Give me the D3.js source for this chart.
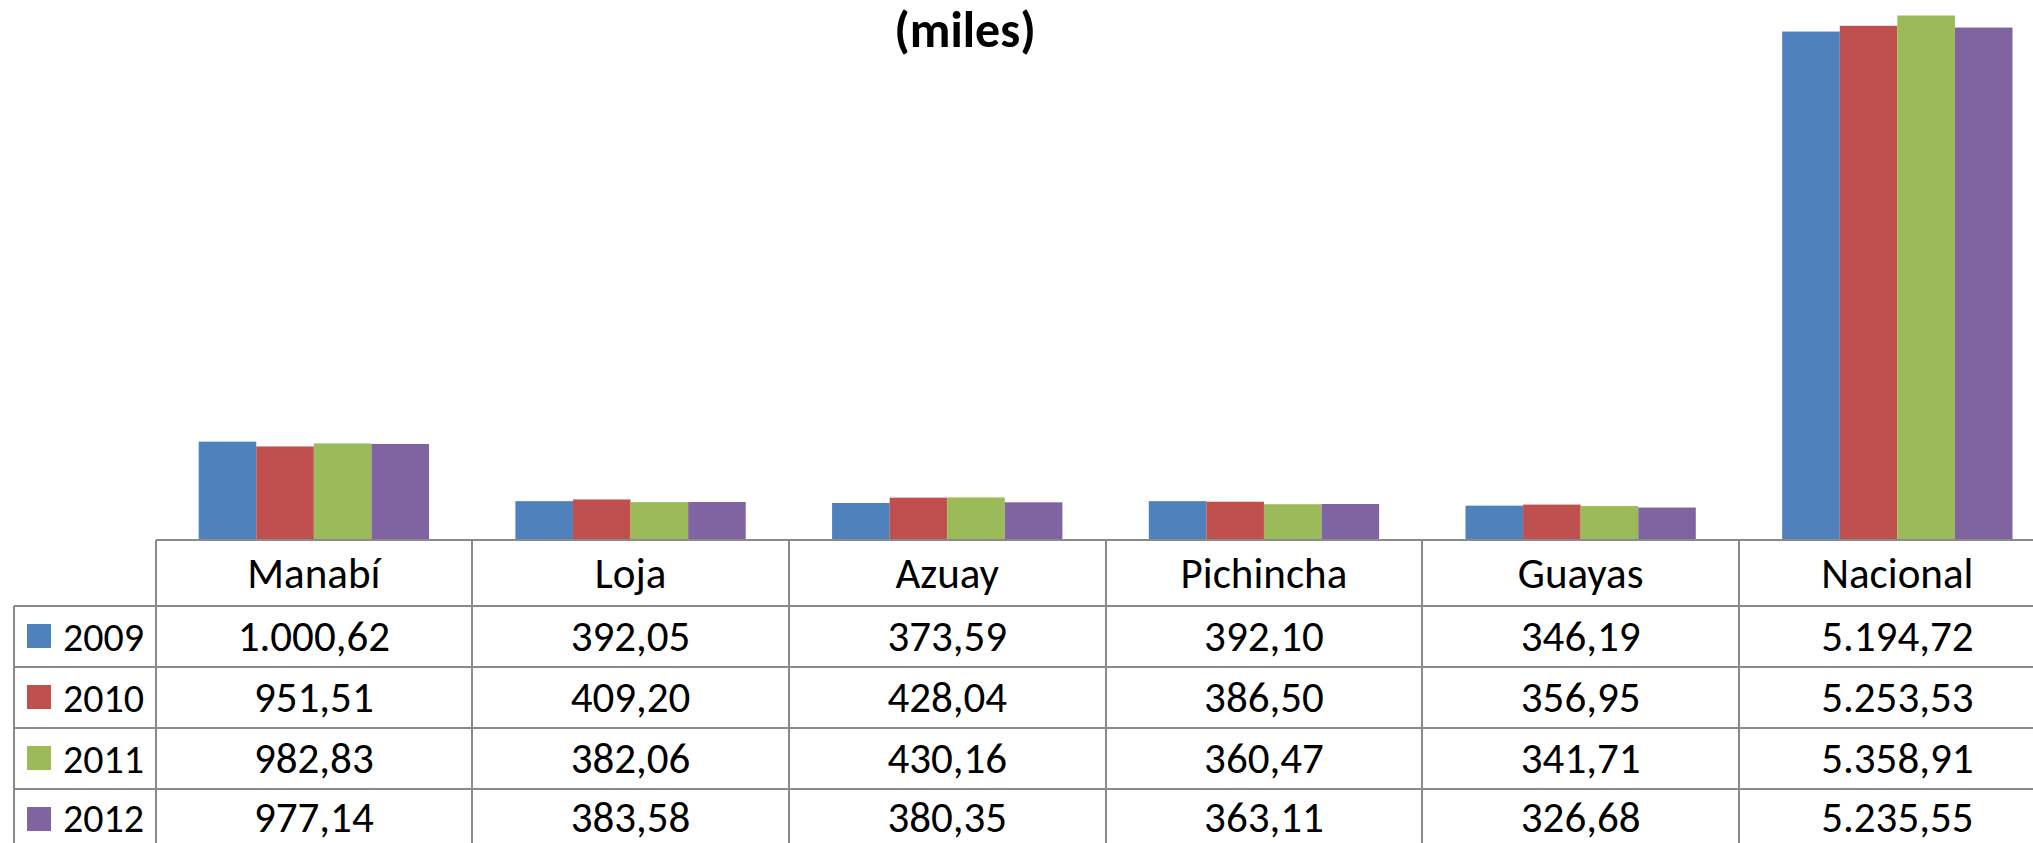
<!DOCTYPE html>
<html>
<head>
<meta charset="utf-8">
<title>miles</title>
<script src="https://cdn.jsdelivr.net/npm/d3@7/dist/d3.min.js"></script>
<style>
  html, body { margin: 0; padding: 0; background: #fff; }
  svg { display: block; }
  .cell-text { font-family: Carlito, Calibri, Lato, sans-serif; font-size: 43px; fill: #000; text-anchor: middle; }
  .legend-text { font-family: Carlito, Calibri, Lato, sans-serif; font-size: 40px; fill: #000; }
  .title { font-family: Carlito, Calibri, Lato, sans-serif; font-size: 50px; font-weight: bold; text-anchor: middle; }
  .grid { stroke: #8a8a8a; stroke-width: 2px; shape-rendering: crispEdges; }
</style>
</head>
<body>
<svg width="2033" height="843"></svg>
<script>
  const categories = ["Manabí", "Loja", "Azuay", "Pichincha", "Guayas", "Nacional"];
  const years = ["2009", "2010", "2011", "2012"];
  const v2009 = [1000.62, 392.05, 373.59, 392.10, 346.19, 5194.72];
  const v2010 = [951.51, 409.20, 428.04, 386.50, 356.95, 5253.53];
  const v2011 = [982.83, 382.06, 430.16, 360.47, 341.71, 5358.91];
  const v2012 = [977.14, 383.58, 380.35, 363.11, 326.68, 5235.55];
  const colors = ["#4F81BD", "#C0504D", "#9BBB59", "#8064A2"];

  const seriesValues = [v2009, v2010, v2011, v2012];

  let svg = d3.select("svg");

  // layout
  let left = 155.5, colW = 316.7;
  let base = 539.5, headerH = 66, rowH = 61;
  let legendLeft = 14;

  let x = d3.scaleBand()
            .domain(categories)
            .range([left, left + colW * categories.length]);
  let xi = d3.scaleBand()
             .domain(years)
             .range([0, x.bandwidth()])
             .paddingOuter(0.75);
  let y = d3.scaleLinear()
            .domain([0, 6000])
            .range([base, base - 6000 * 0.09778]);
  let color = d3.scaleOrdinal().domain(years).range(colors);

  let es = d3.formatLocale({decimal: ",", thousands: ".", grouping: [3], currency: ["", ""]});
  let fmt = es.format(",.2f");

  // bars
  let rows = years.map((yr, i) => ({year: yr, values: seriesValues[i]}));
  let flat = [];
  rows.forEach(r => r.values.forEach((v, j) => flat.push({year: r.year, cat: categories[j], value: v})));

  svg.append("g").selectAll("rect")
     .data(flat)
     .join("rect")
     .attr("x", d => x(d.cat) + xi(d.year))
     .attr("width", xi.bandwidth())
     .attr("y", d => y(d.value))
     .attr("height", d => y(0) - y(d.value))
     .attr("fill", d => color(d.year));

  // title (second line visible)
  svg.append("text")
     .attr("class", "title")
     .attr("x", 965)
     .attr("y", 47)
     .text("(miles)");

  // data table
  let right = left + colW * categories.length;
  let bottom = base + headerH + rowH * years.length;
  let g = svg.append("g");

  // horizontal lines
  g.append("line").attr("class", "grid")
   .attr("x1", left).attr("x2", right).attr("y1", base).attr("y2", base);
  d3.range(years.length + 1).forEach(i => {
    let yy = base + headerH + i * rowH;
    g.append("line").attr("class", "grid")
     .attr("x1", legendLeft).attr("x2", right).attr("y1", yy).attr("y2", yy);
  });
  // vertical lines
  g.append("line").attr("class", "grid")
   .attr("x1", legendLeft).attr("x2", legendLeft).attr("y1", base + headerH).attr("y2", bottom);
  d3.range(categories.length + 1).forEach(i => {
    let xx = left + i * colW;
    g.append("line").attr("class", "grid")
     .attr("x1", xx).attr("x2", xx).attr("y1", base).attr("y2", bottom);
  });

  // header labels
  g.selectAll("text.head")
   .data(categories)
   .join("text")
   .attr("class", "cell-text head")
   .attr("x", d => x(d) + x.bandwidth() / 2)
   .attr("y", base + headerH / 2 + 15)
   .text(d => d);

  // rows
  rows.forEach((r, i) => {
    let cy = base + headerH + i * rowH + rowH / 2;
    let ty = i === years.length - 1 ? cy + 13 : cy + 15;
    g.append("rect")
     .attr("x", 27).attr("y", cy - 12)
     .attr("width", 24).attr("height", 24)
     .attr("fill", color(r.year));
    g.append("text")
     .attr("class", "legend-text")
     .attr("x", 63).attr("y", ty)
     .text(r.year);
    g.selectAll(null)
     .data(r.values)
     .join("text")
     .attr("class", "cell-text")
     .attr("x", (d, j) => x(categories[j]) + x.bandwidth() / 2)
     .attr("y", ty)
     .text(d => fmt(d));
  });
</script>
</body>
</html>
